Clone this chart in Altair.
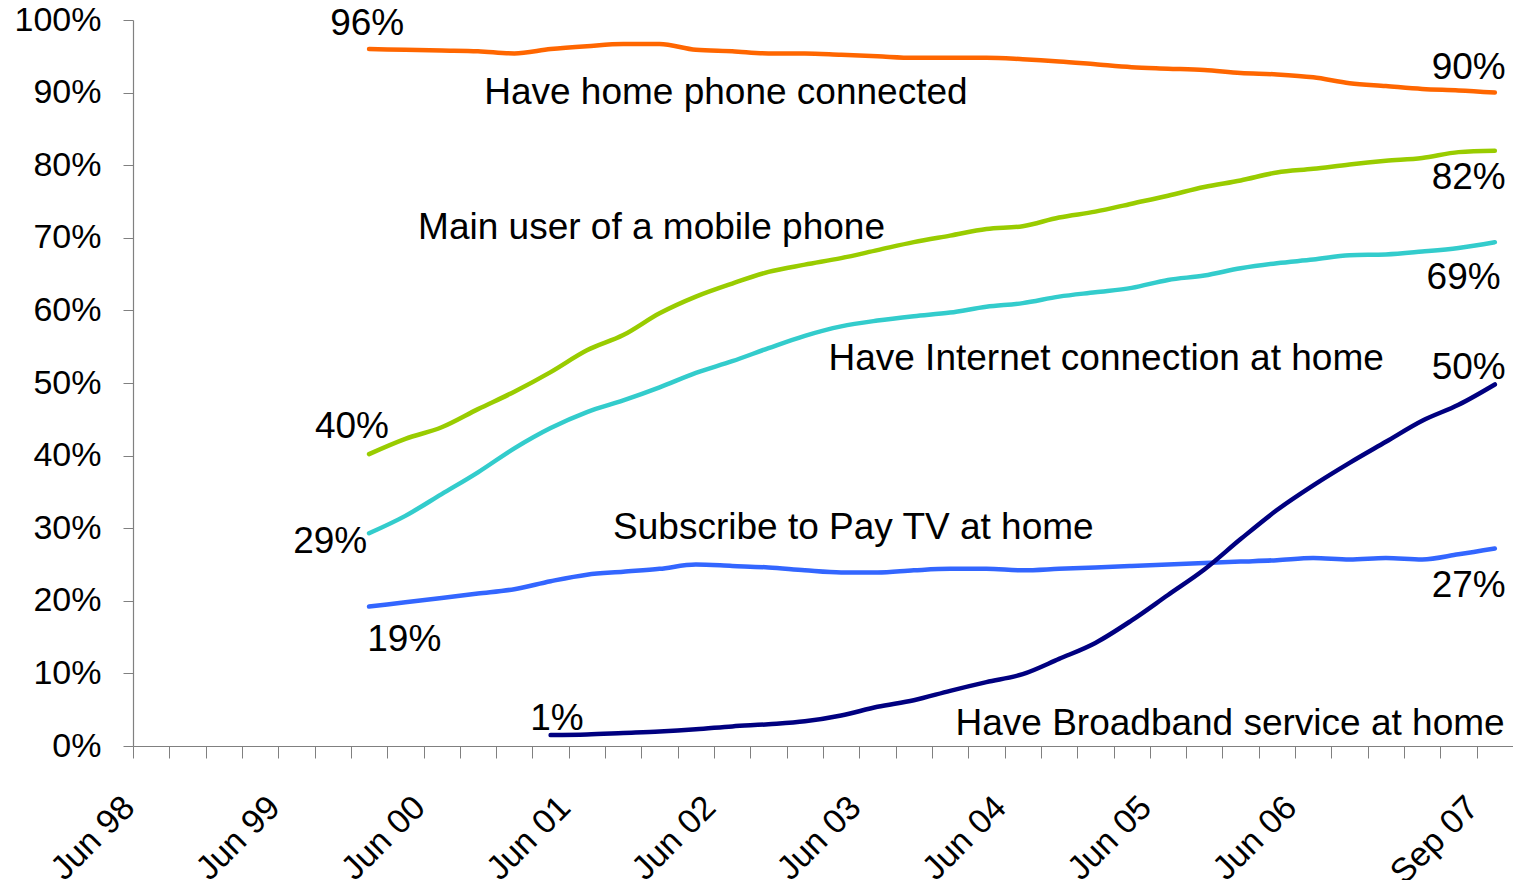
import json
import altair as alt
import pandas as pd

# ---- categories (quarters) ----
quarters = [
    "Jun 98", "Sep 98", "Dec 98", "Mar 99", "Jun 99", "Sep 99", "Dec 99", "Mar 00",
    "Jun 00", "Sep 00", "Dec 00", "Mar 01", "Jun 01", "Sep 01", "Dec 01", "Mar 02",
    "Jun 02", "Sep 02", "Dec 02", "Mar 03", "Jun 03", "Sep 03", "Dec 03", "Mar 04",
    "Jun 04", "Sep 04", "Dec 04", "Mar 05", "Jun 05", "Sep 05", "Dec 05", "Mar 06",
    "Jun 06", "Sep 06", "Dec 06", "Mar 07", "Jun 07", "Sep 07",
]
x_tick_labels = ["Jun 98", "Jun 99", "Jun 00", "Jun 01", "Jun 02", "Jun 03",
                 "Jun 04", "Jun 05", "Jun 06", "Sep 07"]
y_tick_values = [0, 10, 20, 30, 40, 50, 60, 70, 80, 90, 100]

# data quarters: Dec 99 .. Sep 07
data_quarters = quarters[6:]

home_phone = [96.0, 95.9, 95.8, 95.7, 95.4, 96.0, 96.4, 96.7, 96.7, 95.9, 95.7,
              95.4, 95.4, 95.2, 95.0, 94.8, 94.8, 94.8, 94.6, 94.3, 93.9, 93.5,
              93.3, 93.1, 92.7, 92.5, 92.1, 91.3, 90.9, 90.5, 90.3, 90.0]
mobile = [40.2, 42.3, 43.9, 46.4, 48.8, 51.5, 54.5, 56.6, 59.6, 61.9, 63.7,
          65.3, 66.3, 67.2, 68.3, 69.4, 70.3, 71.2, 71.6, 72.8, 73.6, 74.7,
          75.8, 77.0, 77.9, 79.0, 79.5, 80.1, 80.6, 81.0, 81.8, 82.0]
internet = [29.3, 31.7, 34.7, 37.7, 41.0, 43.8, 46.0, 47.6, 49.4, 51.4, 53.0,
            54.8, 56.5, 57.8, 58.6, 59.2, 59.7, 60.5, 61.0, 61.9, 62.5, 63.1,
            64.2, 64.8, 65.8, 66.5, 67.0, 67.6, 67.7, 68.1, 68.6, 69.4]
pay_tv = [19.2, 19.8, 20.4, 21.0, 21.6, 22.7, 23.6, 24.0, 24.4, 25.0, 24.8,
          24.6, 24.2, 23.9, 23.9, 24.2, 24.4, 24.4, 24.2, 24.4, 24.6, 24.8,
          25.0, 25.2, 25.4, 25.6, 25.9, 25.7, 25.9, 25.7, 26.4, 27.2]
broadband = [None, None, None, None, None, 1.5, 1.6, 1.8, 2.0, 2.3, 2.7,
             3.0, 3.4, 4.2, 5.4, 6.3, 7.6, 8.8, 9.9, 12.0, 14.2, 17.3,
             20.8, 24.3, 28.5, 32.5, 35.9, 39.0, 41.9, 44.8, 47.0, 49.8]

series_names = ["Home phone", "Mobile", "Internet", "Pay TV", "Broadband"]
series_colors = ["#FF6600", "#99CC00", "#33CCCC", "#3366FF", "#000080"]
series_values = [home_phone, mobile, internet, pay_tv, broadband]

rows = []
for name, vals in zip(series_names, series_values):
    for q, v in zip(data_quarters, vals):
        if v is None:
            continue
        rows.append({"series": name, "quarter": q,
                     "pos": quarters.index(q) + 0.5, "value": v})
df = pd.DataFrame(rows)

# ---- annotations (data coordinates) ----
ann_left = pd.DataFrame({
    "text": ["Have home phone connected", "Main user of a mobile phone",
             "Have Internet connection at home", "Subscribe to Pay TV at home",
             "19%", "1%"],
    "x": [9.67, 7.85, 19.15, 13.22, 6.45, 10.94],
    "y": [89.9, 71.3, 53.3, 30.0, 14.6, 3.7],
})
ann_center = pd.DataFrame({
    "text": ["96%"],
    "x": [6.45],
    "y": [99.5],
})
ann_right = pd.DataFrame({
    "text": ["90%", "82%", "40%", "69%", "29%", "50%", "27%",
             "Have Broadband service at home"],
    "x": [37.8, 37.8, 7.05, 37.66, 6.45, 37.8, 37.8, 37.77],
    "y": [93.4, 78.2, 43.9, 64.4, 28.1, 52.0, 22.0, 3.0],
})

FONT = "Liberation Sans, Arial, sans-serif"
AXIS_GREY = "#808080"

label_arr = [q if q in x_tick_labels else "" for q in quarters] + [""]
label_expr = json.dumps(label_arr) + "[datum.value]"

x_scale = alt.Scale(domain=[0, len(quarters)], nice=False, zero=False)
y_scale = alt.Scale(domain=[0, 100], nice=False)

x_axis = alt.Axis(
    values=list(range(len(quarters) + 1)),
    tickCount=200,
    labelExpr=label_expr,
    labelAngle=-45,
    labelAlign="right",
    labelBaseline="top",
    labelFont=FONT,
    labelFontSize=34,
    labelColor="black",
    labelPadding=32,
    labelOffset=-16,
    labelOverlap=False,
    labelFlush=False,
    labelBound=False,
    tickSize=12,
    tickColor=AXIS_GREY,
    tickWidth=1,
    domainColor=AXIS_GREY,
    domainWidth=1.2,
    grid=False,
    title=None,
)
y_axis = alt.Axis(
    values=y_tick_values,
    tickCount=200,
    labelExpr="datum.value + '%'",
    labelFont=FONT,
    labelFontSize=34,
    labelColor="black",
    labelPadding=22,
    labelFlush=False,
    labelOverlap=False,
    tickSize=10,
    tickColor=AXIS_GREY,
    tickWidth=1,
    domainColor=AXIS_GREY,
    domainWidth=1.2,
    grid=False,
    title=None,
)

lines = alt.Chart(df).mark_line(
    strokeWidth=4.5, interpolate="monotone", strokeCap="round", strokeJoin="round"
).encode(
    x=alt.X("pos:Q", scale=x_scale, axis=x_axis),
    y=alt.Y("value:Q", scale=y_scale, axis=y_axis),
    color=alt.Color("series:N",
                    scale=alt.Scale(domain=series_names, range=series_colors),
                    legend=None),
    order=alt.Order("pos:Q"),
)


def text_layer(data, align):
    return alt.Chart(data).mark_text(
        align=align, baseline="middle", font=FONT, fontSize=37, color="black"
    ).encode(
        x=alt.X("x:Q", scale=x_scale),
        y=alt.Y("y:Q", scale=y_scale),
        text="text:N",
    )


chart = alt.layer(
    lines,
    text_layer(ann_left, "left"),
    text_layer(ann_center, "center"),
    text_layer(ann_right, "right"),
).properties(
    width=1380,
    height=726,
    autosize=alt.AutoSizeParams(type="none"),
    padding={"left": 125, "top": 12, "right": 0, "bottom": 134},
    background="white",
).configure_view(stroke=None)

chart.save("out.html", embed_options={"renderer": "svg", "actions": False})
